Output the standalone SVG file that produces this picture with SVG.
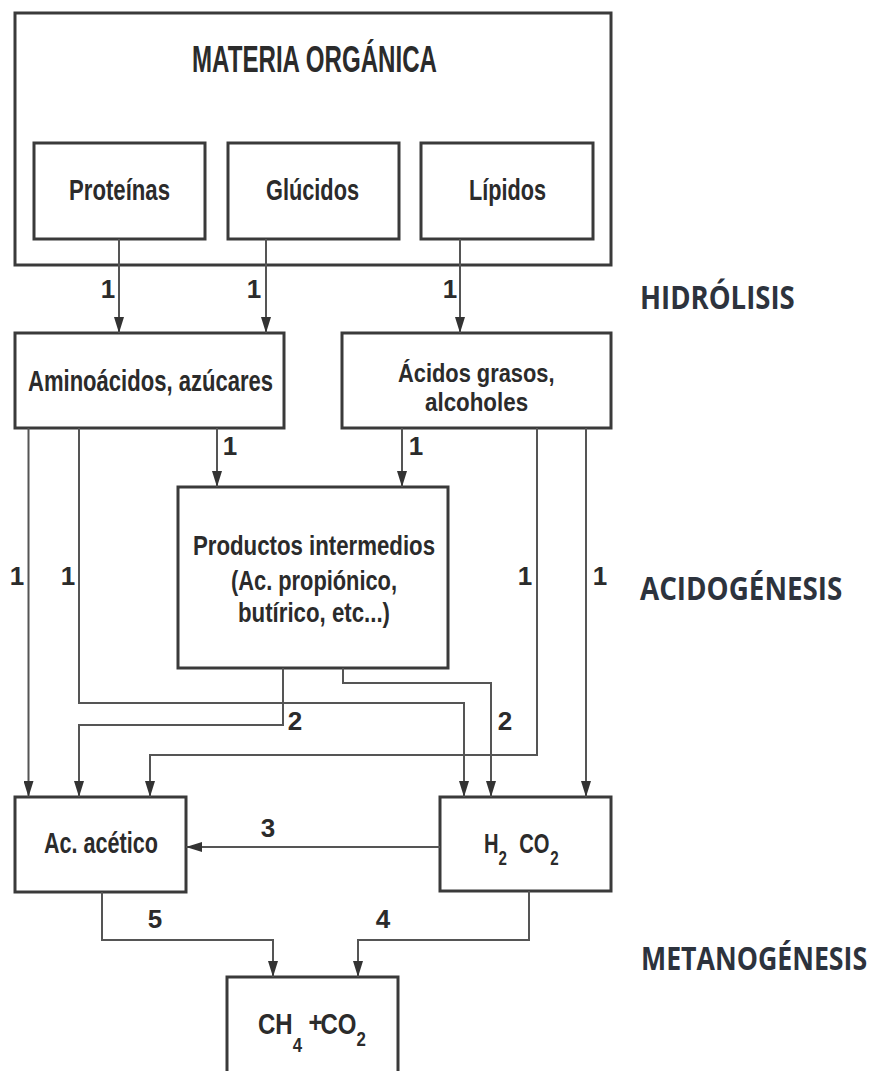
<svg xmlns="http://www.w3.org/2000/svg" width="881" height="1071" viewBox="0 0 881 1071">
<style>
.box{fill:none;stroke:#3a3a3a;stroke-width:3}
.t{font-family:"Liberation Sans",Arial,sans-serif;font-weight:bold;fill:#2b2b2b;font-size:30px}
.m{font-size:28px}
.s26{font-size:26px}
.title{font-size:36px}
.n{font-family:"Liberation Sans",Arial,sans-serif;font-weight:bold;fill:#2b2b2b;font-size:26px;text-anchor:middle}
.stage{font-family:"Open Sans","Liberation Sans",sans-serif;font-weight:bold;fill:#2d333d;font-size:32px}
.c{fill:none;stroke:#555;stroke-width:2;marker-end:url(#ah)}
.sub{font-size:21px}
</style>
<defs>
<marker id="ah" markerUnits="userSpaceOnUse" markerWidth="16" markerHeight="10" refX="16" refY="5" orient="auto">
<path d="M0,0 L16,5 L0,10 z" fill="#333"/>
</marker>
</defs>
<rect width="881" height="1071" fill="#fff"/>
<g id="materia">
<rect class="box" x="15" y="13" width="596" height="252"/>
<text class="t title" x="192" y="72" textLength="245" lengthAdjust="spacingAndGlyphs">MATERIA ORGÁNICA</text>
</g>
<g id="proteinas">
<rect class="box" x="34" y="143" width="171" height="96"/>
<text class="t" x="69" y="200" textLength="101" lengthAdjust="spacingAndGlyphs">Proteínas</text>
</g>
<g id="glucidos">
<rect class="box" x="228" y="143" width="171" height="96"/>
<text class="t" x="266" y="200" textLength="93" lengthAdjust="spacingAndGlyphs">Glúcidos</text>
</g>
<g id="lipidos">
<rect class="box" x="421" y="143" width="172" height="96"/>
<text class="t" x="469" y="200" textLength="77" lengthAdjust="spacingAndGlyphs">Lípidos</text>
</g>
<g id="aminoacidos">
<rect class="box" x="15" y="333" width="269" height="95"/>
<text class="t" x="28" y="391" textLength="245" lengthAdjust="spacingAndGlyphs">Aminoácidos, azúcares</text>
</g>
<g id="acidos">
<rect class="box" x="342" y="333" width="269" height="95"/>
<text class="t s26" transform="translate(398,382) scale(0.84,1)" x="0" y="0">Ácidos grasos,</text>
<text class="t s26" transform="translate(425,411) scale(0.86,1)" x="0" y="0">alcoholes</text>
</g>
<g id="productos">
<rect class="box" x="178" y="487" width="270" height="181"/>
<text class="t m" x="193" y="555" textLength="242" lengthAdjust="spacingAndGlyphs">Productos intermedios</text>
<text class="t m" x="231" y="590" textLength="166" lengthAdjust="spacingAndGlyphs">(Ac. propiónico,</text>
<text class="t m" x="238" y="622" textLength="152" lengthAdjust="spacingAndGlyphs">butírico, etc...)</text>
</g>
<g id="acetico">
<rect class="box" x="15" y="797" width="171" height="95"/>
<text class="t" x="44" y="853" textLength="114" lengthAdjust="spacingAndGlyphs">Ac. acético</text>
</g>
<g id="h2co2">
<rect class="box" x="440" y="797" width="171" height="94"/>
<text class="t m" transform="translate(484,853) scale(0.72,1)" x="0" y="0">H<tspan class="sub" y="12">2</tspan><tspan x="49" y="0">CO</tspan><tspan class="sub" x="92" y="12">2</tspan></text>
</g>
<g id="ch4co2">
<rect class="box" x="227" y="977" width="171" height="100"/>
<text class="t" transform="translate(258,1034) scale(0.8,1)" x="0" y="0">CH<tspan class="sub" y="18">4</tspan><tspan x="63" y="-2">+</tspan><tspan x="78" y="0">CO</tspan><tspan class="sub" x="123" y="12">2</tspan></text>
</g>
<g id="stages">
<text class="stage" transform="translate(640,309) scale(0.85,1)" x="0" y="0" textLength="182" lengthAdjust="spacingAndGlyphs">HIDRÓLISIS</text>
<text class="stage" transform="translate(640,600) scale(0.85,1)" x="0" y="0" textLength="238" lengthAdjust="spacingAndGlyphs">ACIDOGÉNESIS</text>
<text class="stage" transform="translate(641,970) scale(0.85,1)" x="0" y="0" textLength="266" lengthAdjust="spacingAndGlyphs">METANOGÉNESIS</text>
</g>
<g id="connectors">
<path class="c" d="M119,239 V333"/>
<path class="c" d="M266,239 V333"/>
<path class="c" d="M460,239 V333"/>
<path class="c" d="M217,428 V487"/>
<path class="c" d="M402,428 V487"/>
<path class="c" d="M28.5,428 V797"/>
<path class="c" d="M79,428 V703 H464 V797"/>
<path class="c" d="M283,668 V725 H79 V797"/>
<path class="c" d="M343,668 V683 H491 V797"/>
<path class="c" d="M537,428 V755 H150 V797"/>
<path class="c" d="M586,428 V797"/>
<path class="c" d="M440,847 H186"/>
<path class="c" d="M102,892 V940 H273 V977"/>
<path class="c" d="M529,891 V940 H358 V977"/>
<text class="n" x="108" y="298">1</text>
<text class="n" x="254" y="298">1</text>
<text class="n" x="450" y="298">1</text>
<text class="n" x="230" y="455">1</text>
<text class="n" x="416" y="455">1</text>
<text class="n" x="17" y="585">1</text>
<text class="n" x="68" y="585">1</text>
<text class="n" x="525" y="585">1</text>
<text class="n" x="600" y="585">1</text>
<text class="n" x="295" y="730">2</text>
<text class="n" x="505" y="730">2</text>
<text class="n" x="268" y="837">3</text>
<text class="n" x="155" y="928">5</text>
<text class="n" x="383" y="928">4</text>
</g>
</svg>
